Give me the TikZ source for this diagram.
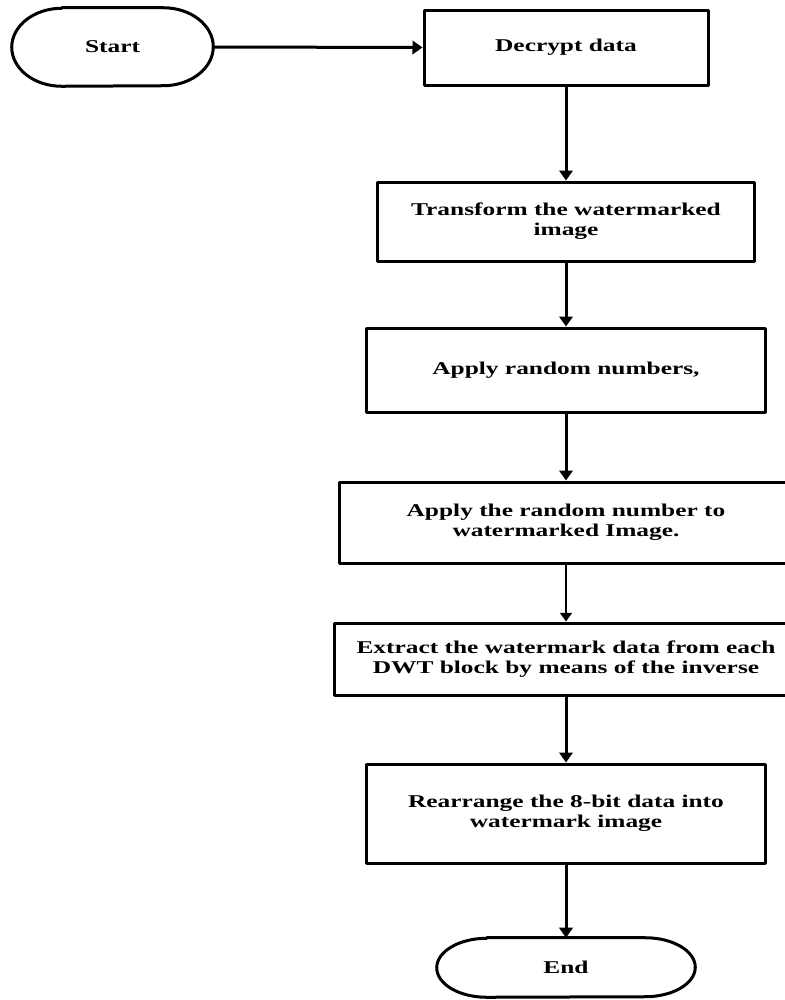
\documentclass[tikz,border=0pt]{standalone}
\usepackage{fontspec}
\setmainfont{Liberation Serif}[FakeStretch=1.41]
\usetikzlibrary{arrows.meta}
\tikzset{
  procbox/.style={draw, line width=2.25pt, rectangle, align=center, inner sep=0pt},
  termbox/.style={rectangle, align=center, inner sep=0pt},
  flow/.style={line width=2.25pt, -{Triangle[length=7.5pt,width=10pt]}},
  thinflow/.style={line width=0.9pt, -{Triangle[length=6.5pt,width=9pt]}}
}
\begin{document}
\begin{tikzpicture}[x=0.75pt, y=0.75pt, font=\fontsize{13.5}{15}\selectfont\bfseries, line join=round]
				\useasboundingbox (0,0) rectangle (785,-1000);
				\clip (0,0) rectangle (785,-1000);
				% terminals
				\node[termbox, minimum width=201*0.75pt, minimum height=78*0.75pt] (start) at (112.5,-47) {Start};
				\node[termbox, minimum width=258*0.75pt, minimum height=59*0.75pt] (end) at (566,-967.5) {End};
				\foreach \t/\r in {start/39, end/29.5}
				\draw[line width=2.25pt] ([xshift=37.5pt]\t.north west) -- ([xshift=-37.5pt]\t.north east)
					arc[start angle=90, end angle=-90, x radius=50, y radius=\r]
					-- ([xshift=37.5pt]\t.south west)
					arc[start angle=270, end angle=90, x radius=50, y radius=\r] -- cycle;
				% process boxes
				\node[procbox, minimum width=284*0.75pt, minimum height=75*0.75pt] (decrypt) at (566,-47.5) {Decrypt data};
				\node[procbox, minimum width=377*0.75pt, minimum height=79*0.75pt] (transform) at (566,-221.5) {Transform the watermarked\\image};
				\node[procbox, minimum width=399*0.75pt, minimum height=84*0.75pt] (random) at (566,-370) {Apply random numbers,};
				\node[procbox, minimum width=454*0.75pt, minimum height=81*0.75pt] (applyto) at (566,-522.5) {Apply the random number to\\watermarked Image.};
				\node[procbox, minimum width=464*0.75pt, minimum height=72*0.75pt] (extract) at (566,-659) {Extract the watermark data from each\\DWT block by means of the inverse};
				\node[procbox, minimum width=399*0.75pt, minimum height=99*0.75pt] (rearrange) at (566,-813.5) {Rearrange the 8-bit data into\\watermark image};
				% connectors
				\draw[flow] (start.east) -- (decrypt.west);
				\draw[flow] (decrypt.south) -- (transform.north);
				\draw[flow] (transform.south) -- (random.north);
				\draw[flow] (random.south) -- (applyto.north);
				\draw[thinflow] (applyto.south) -- (extract.north);
				\draw[flow] (extract.south) -- (rearrange.north);
				\draw[flow] (rearrange.south) -- (end.north);
			\end{tikzpicture}
\end{document}
